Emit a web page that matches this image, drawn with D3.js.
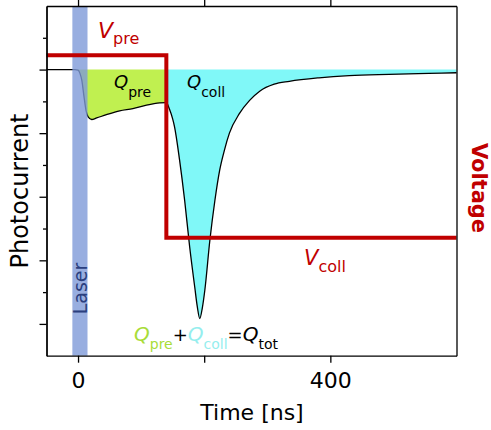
<!DOCTYPE html>
<html>
<head>
<meta charset="utf-8">
<script src="https://cdn.jsdelivr.net/npm/d3@7"></script>
<style>
    body { margin: 0; background: #fff; }
    text { font-family: 'DejaVu Sans', sans-serif; }
</style>
</head>
<body>
<div id="chart"></div>
<script>

// photocurrent trace (time in ns, current in arb. units, negative = down)
var currentTime = [-50, -5, 0, 3, 6, 9.5, 12.6, 16, 21.6, 29.6, 45, 66, 87, 108.6, 129.6, 140,
    145, 150, 153, 161, 169, 177, 185, 189, 193, 197, 201, 209, 217, 224.5, 232, 240, 256, 272,
    288, 311, 335, 382, 430, 493, 556, 600];
var currentValue = [0, 0, -0.02, -0.12, -0.34, -0.86, -1.28, -1.49, -1.57, -1.52, -1.42, -1.30, -1.23, -1.12, -1.05, -1.04,
    -1.25, -1.55, -1.8, -2.85, -4.11, -5.58, -6.84, -7.45, -7.83, -7.5, -6.94, -5.37, -4.11, -3.17, -2.54, -2.0, -1.38, -0.97,
    -0.68, -0.46, -0.37, -0.26, -0.19, -0.15, -0.12, -0.10];

// voltage step
var voltageTime = [-50, 140, 140, 600];
var voltageValue = [1, 1, 0, 0];

var laserWindow = [-9, 15];
var switchTime = 140;

var xTicks = [0, 200, 400];
var xTickLabels = ['0', '', '400'];
var yMajorTicks = [0, -2, -4, -6, -8];
var yMinorTicks = [1, -1, -3, -5, -7];

var width = 491;
var height = 430;
var plotLeft = 46.5, plotRight = 456.5, plotTop = 6, plotBottom = 355.7;

var svg = d3.select('#chart')
    .append('svg')
    .attr('width', width)
    .attr('height', height);

var x = d3.scaleLinear().domain([-50, 600]).range([plotLeft, plotRight]);
var y = d3.scaleLinear().domain([-9, 2]).range([plotBottom, plotTop]);
var yV = d3.scaleLinear().domain([-0.647, 1.27]).range([plotBottom, plotTop]);

var trace = currentTime.map(function(t, i) { return [t, currentValue[i]]; });
var preData = trace.filter(function(d) { return d[0] >= 0 && d[0] <= switchTime; });
var collData = trace.filter(function(d) { return d[0] >= switchTime; });

var area = d3.area()
    .x(function(d) { return x(d[0]); })
    .y0(y(0))
    .y1(function(d) { return y(d[1]); })
    .curve(d3.curveMonotoneX);

var line = d3.line()
    .x(function(d) { return x(d[0]); })
    .y(function(d) { return y(d[1]); })
    .curve(d3.curveMonotoneX);

svg.append('path').datum(preData).attr('d', area).style('fill', '#c0f050');
svg.append('path').datum(collData).attr('d', area).style('fill', '#80f8f8');

svg.append('path')
    .datum(trace)
    .attr('d', line)
    .style('fill', 'none')
    .style('stroke', '#000')
    .style('stroke-width', 1.3);

// laser pulse band
svg.append('rect')
    .attr('x', x(laserWindow[0]))
    .attr('y', plotTop)
    .attr('width', x(laserWindow[1]) - x(laserWindow[0]))
    .attr('height', plotBottom - plotTop)
    .style('fill', '#7e9ad8')
    .style('opacity', 0.8);

var vLine = d3.line()
    .x(function(d) { return x(d[0]); })
    .y(function(d) { return yV(d[1]); });

svg.append('path')
    .datum(voltageTime.map(function(t, i) { return [t, voltageValue[i]]; }))
    .attr('d', vLine)
    .style('fill', 'none')
    .style('stroke', '#c00000')
    .style('stroke-width', 4);

// axes / frame
var xAxis = d3.axisBottom(x).tickValues(xTicks).tickSize(7).tickSizeOuter(0).tickPadding(10)
    .tickFormat(function(d, i) { return xTickLabels[i]; });
var gx = svg.append('g').attr('transform', 'translate(0,' + plotBottom + ')').call(xAxis);
var gxt = svg.append('g').attr('transform', 'translate(0,' + plotTop + ')')
    .call(d3.axisTop(x).tickValues(xTicks).tickSize(6).tickSizeOuter(0).tickFormat(''));
var gy = svg.append('g').attr('transform', 'translate(' + plotLeft + ',0)')
    .call(d3.axisLeft(y).tickValues(yMajorTicks).tickSize(7).tickSizeOuter(0).tickFormat(''));
var gy2 = svg.append('g').attr('transform', 'translate(' + plotLeft + ',0)')
    .call(d3.axisLeft(y).tickValues(yMinorTicks).tickSize(3.5).tickSizeOuter(0).tickFormat(''));
var gr = svg.append('g').attr('transform', 'translate(' + plotRight + ',0)')
    .call(d3.axisRight(yV).tickValues([]).tickSizeOuter(0));

[gx, gxt, gy, gy2, gr].forEach(function(g) {
    g.selectAll('path, line').style('stroke', '#000').style('stroke-width', 1.3);
});
gx.selectAll('text').style('font-size', '22px').style('fill', '#000')
    .style('font-family', "'DejaVu Sans', sans-serif");

// text helpers
function label(px, py, parts) {
    var t = svg.append('text').attr('x', px).attr('y', py);
    parts.forEach(function(p) {
        t.append('tspan')
            .attr('dy', p.dy || 0)
            .style('font-size', p.size + 'px')
            .style('font-style', p.italic ? 'italic' : 'normal')
            .style('fill', p.color || '#000')
            .text(p.text);
    });
    return t;
}

label(98, 38, [
    {text: 'V', size: 22, italic: true, color: '#c00000'},
    {text: 'pre', size: 16, dy: 6, color: '#c00000'}
]);
label(114, 88, [
    {text: 'Q', size: 18, italic: true},
    {text: 'pre', size: 14, dy: 9}
]);
label(187, 88, [
    {text: 'Q', size: 18, italic: true},
    {text: 'coll', size: 14, dy: 9}
]);
label(304, 265, [
    {text: 'V', size: 21, italic: true, color: '#c00000'},
    {text: 'coll', size: 16, dy: 7, color: '#c00000'}
]);
label(134, 341, [
    {text: 'Q', size: 20, italic: true, color: '#a8dc38'},
    {text: 'pre', size: 14, dy: 8, color: '#a8dc38'},
    {text: '+', size: 18, dy: -8},
    {text: 'Q', size: 20, italic: true, color: '#95eeee'},
    {text: 'coll', size: 14, dy: 8, color: '#95eeee'},
    {text: '=', size: 18, dy: -8},
    {text: 'Q', size: 20, italic: true},
    {text: 'tot', size: 14, dy: 8}
]);

svg.append('text')
    .attr('transform', 'translate(87,288.5) rotate(-90)')
    .attr('text-anchor', 'middle')
    .style('font-size', '19px')
    .style('fill', '#2b3f7e')
    .text('Laser');

svg.append('text')
    .attr('transform', 'translate(28,191) rotate(-90)')
    .attr('text-anchor', 'middle')
    .style('font-size', '24px')
    .style('fill', '#000')
    .text('Photocurrent');

svg.append('text')
    .attr('transform', 'translate(472,188) rotate(90)')
    .attr('text-anchor', 'middle')
    .style('font-size', '21px')
    .style('font-weight', 'bold')
    .style('fill', '#c00000')
    .text('Voltage');

svg.append('text')
    .attr('x', 252)
    .attr('y', 419.5)
    .attr('text-anchor', 'middle')
    .style('font-size', '22px')
    .style('fill', '#000')
    .text('Time [ns]');

</script>
</body>
</html>
